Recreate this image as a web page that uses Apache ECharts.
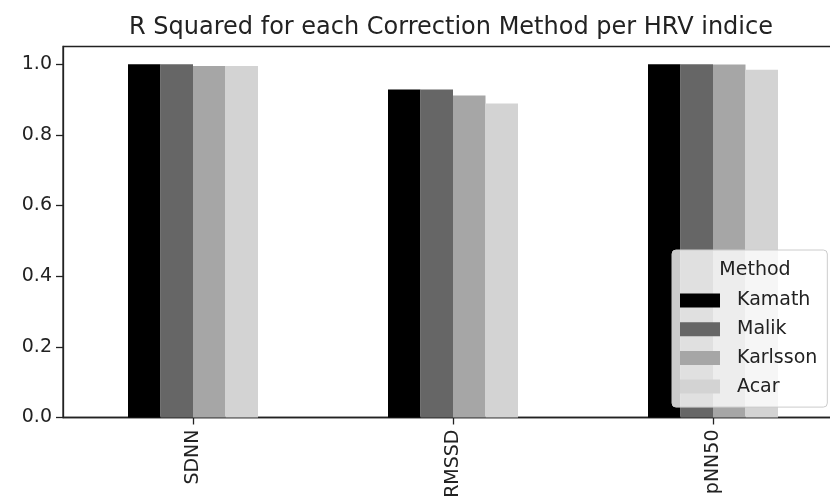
<!DOCTYPE html>
<html>
<head>
<meta charset="utf-8">
<script src="https://cdn.jsdelivr.net/npm/echarts@6/dist/echarts.min.js"></script>
<style>
html,body{margin:0;padding:0;background:#fff;overflow:hidden;width:830px;height:503px;}
#chart{width:846px;height:503px;}
</style>
</head>
<body>
<div id="chart"></div>
<script>
const categories = ['SDNN', 'RMSSD', 'pNN50'];
const methods = ['Kamath', 'Malik', 'Karlsson', 'Acar'];
const kamath = [1.000, 0.928, 1.000];
const malik = [1.000, 0.928, 1.000];
const karlsson = [0.995, 0.911, 0.999];
const acar = [0.995, 0.889, 0.984];
const yTicks = [0, 0.2, 0.4, 0.6, 0.8, 1.0];
const colors = ['#000000', '#666666', '#a6a6a6', '#d3d3d3'];
const seriesValues = [kamath, malik, karlsson, acar];

const FONT = 'DejaVu Sans';
const chart = echarts.init(document.getElementById('chart'), null, {renderer: 'canvas'});
chart.setOption({
  animation: false,
  backgroundColor: '#fff',
  textStyle: {fontFamily: FONT},
  title: [{
    text: 'R Squared for each Correction Method per HRV indice',
    left: 446, top: 11, textAlign: 'center',
    textStyle: {fontFamily: FONT, fontSize: 24, fontWeight: 'normal', color: '#222'}
  }, {
    text: 'Method',
    left: 750, top: 256, textAlign: 'center', z: 20,
    textStyle: {fontFamily: FONT, fontSize: 19, fontWeight: 'normal', color: '#222'}
  }],
  grid: {
    left: 63, top: 46.5, width: 780, height: 371,
    outerBoundsMode: 'none',
    show: true, borderColor: '#222', borderWidth: 1.3, backgroundColor: 'transparent'
  },
  xAxis: {
    type: 'category', data: categories, boundaryGap: true,
    axisLine: {show: true, lineStyle: {color: '#222', width: 1.3}},
    axisTick: {show: true, alignWithLabel: true, length: 7, lineStyle: {color: '#222', width: 1.3}},
    axisLabel: {rotate: 90, margin: 12, fontSize: 19, color: '#222', fontFamily: FONT},
    splitLine: {show: false}
  },
  yAxis: {
    type: 'value', min: 0, max: 1.05,
    axisLine: {show: true, lineStyle: {color: '#222', width: 1.3}},
    axisTick: {show: true, length: 7, lineStyle: {color: '#222', width: 1.3}, customValues: yTicks},
    axisLabel: {fontSize: 19, color: '#222', margin: 11, fontFamily: FONT, customValues: yTicks,
      formatter: v => v.toFixed(1)},
    splitLine: {show: false}
  },
  legend: {
    orient: 'vertical', left: 672, top: 250, z: 10,
    data: methods,
    itemWidth: 40, itemHeight: 14, itemGap: 9.7,
    icon: 'rect',
    padding: [41, 10, 11, 8],
    backgroundColor: 'rgba(255,255,255,0.8)',
    borderColor: '#cccccc', borderWidth: 1, borderRadius: 4,
    textStyle: {fontFamily: FONT, fontSize: 19, color: '#222', padding: [0, 0, 0, 12]},
    selectedMode: false
  },
  series: methods.map((m, i) => ({
    name: m, type: 'bar', data: seriesValues[i],
    barWidth: 32.5, barGap: '0%',
    itemStyle: {color: colors[i]},
    emphasis: {disabled: true}
  }))
});
</script>
</body>
</html>
